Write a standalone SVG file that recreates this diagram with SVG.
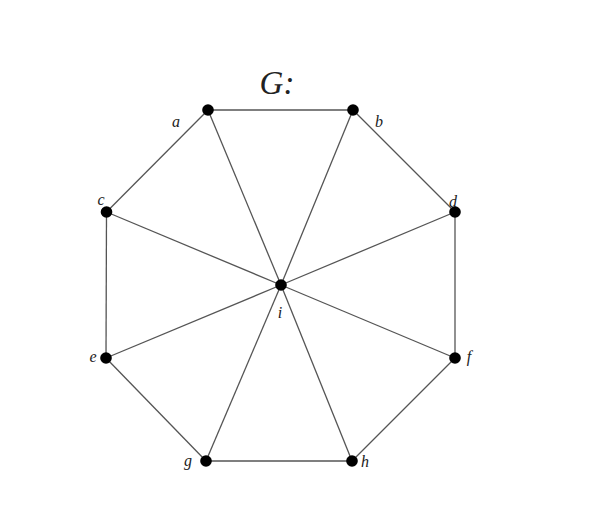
<svg xmlns="http://www.w3.org/2000/svg" width="592" height="518" viewBox="0 0 592 518">
<style>
.e{stroke:#555;stroke-width:1.3;fill:none}
.n{fill:#000}
.l{font-family:"Liberation Serif","DejaVu Serif",serif;font-style:italic;font-size:16px;fill:#222}
.t{font-family:"Liberation Serif","DejaVu Serif",serif;font-style:italic;font-size:33px;fill:#222}
</style>
<rect width="592" height="518" fill="#fff"/>
<text class="t" x="277" y="94" text-anchor="middle">G:</text>
<g id="edges">
<line class="e" x1="208" y1="110" x2="353" y2="110"/>
<line class="e" x1="208" y1="110" x2="106.5" y2="212"/>
<line class="e" x1="353" y1="110" x2="455" y2="212"/>
<line class="e" x1="106.5" y1="212" x2="106" y2="358"/>
<line class="e" x1="455" y1="212" x2="455" y2="358"/>
<line class="e" x1="106" y1="358" x2="206" y2="461"/>
<line class="e" x1="455" y1="358" x2="352" y2="461"/>
<line class="e" x1="206" y1="461" x2="352" y2="461"/>
<line class="e" x1="281" y1="285" x2="208" y2="110"/>
<line class="e" x1="281" y1="285" x2="353" y2="110"/>
<line class="e" x1="281" y1="285" x2="106.5" y2="212"/>
<line class="e" x1="281" y1="285" x2="455" y2="212"/>
<line class="e" x1="281" y1="285" x2="106" y2="358"/>
<line class="e" x1="281" y1="285" x2="455" y2="358"/>
<line class="e" x1="281" y1="285" x2="206" y2="461"/>
<line class="e" x1="281" y1="285" x2="352" y2="461"/>
</g>
<g id="a"><circle class="n" cx="208" cy="110" r="5.8"/><text class="l" x="176" y="127" text-anchor="middle">a</text></g>
<g id="b"><circle class="n" cx="353" cy="110" r="5.8"/><text class="l" x="379" y="127" text-anchor="middle">b</text></g>
<g id="c"><circle class="n" cx="106.5" cy="212" r="5.8"/><text class="l" x="101" y="205" text-anchor="middle">c</text></g>
<g id="d"><circle class="n" cx="455" cy="212" r="5.8"/><text class="l" x="453" y="207" text-anchor="middle">d</text></g>
<g id="e"><circle class="n" cx="106" cy="358" r="5.8"/><text class="l" x="93" y="362" text-anchor="middle">e</text></g>
<g id="f"><circle class="n" cx="455" cy="358" r="5.8"/><text class="l" x="469" y="362" text-anchor="middle">f</text></g>
<g id="g"><circle class="n" cx="206" cy="461" r="5.8"/><text class="l" x="188" y="466" text-anchor="middle">g</text></g>
<g id="h"><circle class="n" cx="352" cy="461" r="5.8"/><text class="l" x="365" y="467" text-anchor="middle">h</text></g>
<g id="i"><circle class="n" cx="281" cy="285" r="5.8"/><text class="l" x="280" y="318" text-anchor="middle">i</text></g>
</svg>
